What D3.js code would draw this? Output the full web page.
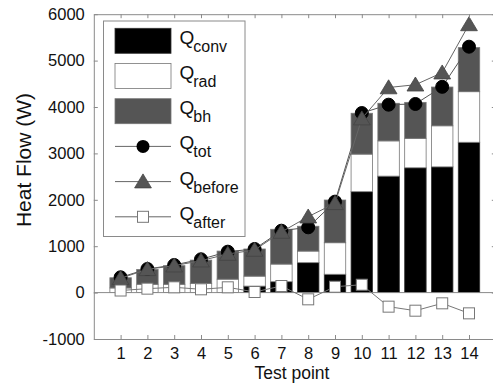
<!DOCTYPE html>
<html>
<head>
<meta charset="utf-8">
<script src="https://cdn.jsdelivr.net/npm/d3@7"></script>
<style>
  html, body { margin: 0; padding: 0; background: #fff; }
  svg { display: block; font-family: "Liberation Sans", Arial, sans-serif; }
</style>
</head>
<body>
<svg id="chart" width="493" height="389"></svg>
<script>
// Heat flow components per test point (W)
const testPoints = [1, 2, 3, 4, 5, 6, 7, 8, 9, 10, 11, 12, 13, 14];
const qConv   = [0, 0, 0, 0, 0, 140, 235, 645, 395, 2175, 2510, 2690, 2710, 3240];
const qRad    = [100, 180, 180, 200, 290, 215, 380, 250, 680, 810, 760, 635, 885, 1090];
const qBh     = [220, 320, 400, 500, 605, 585, 750, 535, 920, 880, 810, 775, 835, 950];
const qTot    = [330, 509, 595, 718, 882, 940, 1334, 1407, 1960, 3870, 4050, 4065, 4435, 5300];
const qBefore = [308, 502, 580, 688, 832, 918, 1306, 1636, 1925, 3750, 4420, 4480, 4740, 5780];
const qAfter  = [45, 85, 114, 71, 114, 13, 142, -145, 127, 170, -303, -390, -231, -447];
const yTicks  = [-1000, 0, 1000, 2000, 3000, 4000, 5000, 6000];

const svg = d3.select("#chart");
const x = d3.scaleLinear().domain([0, 15]).range([93.8, 495.8]);
const y = d3.scaleLinear().domain([-1000, 6000]).range([339, 14.2]);
const barW = x(0.8) - x(0);

const axisColor = "#8a8a8a";
const gray = "#555555";
const plain = d => String(d);

// stacked bars: convection at the bottom, radiation, then body heat
const rows = testPoints.map((t, i) => ({ t, conv: qConv[i], rad: qRad[i], bh: qBh[i] }));
const stack = d3.stack().keys(["conv", "rad", "bh"])(rows);
const fills = { conv: "#000000", rad: "#ffffff", bh: gray };
const strokes = { conv: "#333", rad: "#777", bh: "#777" };

const plot = svg.append("g");

stack.forEach(layer => {
  plot.append("g").selectAll("rect")
    .data(layer)
    .join("rect")
    .attr("x", d => x(d.data.t) - barW / 2)
    .attr("width", barW)
    .attr("y", d => y(d[1]))
    .attr("height", d => Math.max(0, y(d[0]) - y(d[1])))
    .attr("fill", fills[layer.key])
    .attr("stroke", strokes[layer.key])
    .attr("stroke-width", 0.8);
});

// zero baseline
plot.append("line")
  .attr("x1", x(0)).attr("x2", x(15))
  .attr("y1", y(0)).attr("y2", y(0))
  .attr("stroke", axisColor).attr("stroke-width", 1);

// axes box with inward ticks
const axes = svg.append("g");
const axLeft = axes.append("g").attr("transform", `translate(${x(0)},0)`)
  .call(d3.axisLeft(y).tickValues(yTicks).tickFormat(plain).tickSizeInner(-4).tickSizeOuter(0).tickPadding(9));
const axRight = axes.append("g").attr("transform", `translate(${x(15)},0)`)
  .call(d3.axisRight(y).tickValues(yTicks).tickSizeInner(-4).tickSizeOuter(0).tickFormat(""));
const axBottom = axes.append("g").attr("transform", `translate(0,${y(-1000)})`)
  .call(d3.axisBottom(x).tickValues(testPoints).tickFormat(plain).tickSizeInner(-4).tickSizeOuter(0).tickPadding(8));
const axTop = axes.append("g").attr("transform", `translate(0,${y(6000)})`)
  .call(d3.axisTop(x).tickValues(testPoints).tickSizeInner(-4).tickSizeOuter(0).tickFormat(""));
[axLeft, axRight, axBottom, axTop].forEach(g => {
  g.attr("font-size", 16.5).attr("font-family", "Liberation Sans, Arial, sans-serif");
  g.selectAll(".domain").attr("stroke", axisColor);
  g.selectAll(".tick line").attr("stroke", axisColor);
  g.selectAll(".tick text").attr("fill", "#111");
});

// lines with markers
const lineGen = vals => d3.line().x((d, i) => x(testPoints[i])).y(d => y(d))(vals);
const triPath = (cx, cy, s) => `M${cx},${cy - s * 0.55}L${cx + s * 0.6},${cy + s * 0.45}L${cx - s * 0.6},${cy + s * 0.45}Z`;

plot.append("path").attr("d", lineGen(qTot)).attr("fill", "none").attr("stroke", "#555").attr("stroke-width", 1);
plot.append("g").selectAll("circle").data(qTot).join("circle")
  .attr("cx", (d, i) => x(testPoints[i])).attr("cy", d => y(d)).attr("r", 6.5)
  .attr("fill", "#000").attr("stroke", "#000");

plot.append("path").attr("d", lineGen(qBefore)).attr("fill", "none").attr("stroke", "#666").attr("stroke-width", 1);
plot.append("g").selectAll("path").data(qBefore).join("path")
  .attr("d", (d, i) => triPath(x(testPoints[i]), y(d), 14))
  .attr("fill", gray).attr("stroke", "#444").attr("stroke-width", 0.8);

plot.append("path").attr("d", lineGen(qAfter)).attr("fill", "none").attr("stroke", "#777").attr("stroke-width", 1);
plot.append("g").selectAll("rect").data(qAfter).join("rect")
  .attr("x", (d, i) => x(testPoints[i]) - 5.5).attr("y", d => y(d) - 5.5)
  .attr("width", 11).attr("height", 11)
  .attr("fill", "#fff").attr("stroke", "#777").attr("stroke-width", 1);

// legend
const legendItems = [
  { sub: "conv", type: "rect", fill: "#000", stroke: "#333" },
  { sub: "rad", type: "rect", fill: "#fff", stroke: "#777" },
  { sub: "bh", type: "rect", fill: gray, stroke: "#777" },
  { sub: "tot", type: "circle" },
  { sub: "before", type: "tri" },
  { sub: "after", type: "square" }
];
const lg = svg.append("g");
lg.append("rect").attr("x", 103.5).attr("y", 21).attr("width", 141.5).attr("height", 215.5)
  .attr("fill", "#fff").attr("stroke", axisColor).attr("stroke-width", 1);
legendItems.forEach((it, i) => {
  const cy = 40.8 + 35.2 * i;
  const g = lg.append("g");
  if (it.type === "rect") {
    g.append("rect").attr("x", 115).attr("y", cy - 12.5).attr("width", 56).attr("height", 25)
      .attr("fill", it.fill).attr("stroke", it.stroke).attr("stroke-width", 0.8);
  } else {
    g.append("line").attr("x1", 115).attr("x2", 171).attr("y1", cy).attr("y2", cy)
      .attr("stroke", "#666").attr("stroke-width", 1);
    if (it.type === "circle") {
      g.append("circle").attr("cx", 143).attr("cy", cy).attr("r", 6.5).attr("fill", "#000");
    } else if (it.type === "tri") {
      g.append("path").attr("d", triPath(143, cy, 14)).attr("fill", gray).attr("stroke", "#444").attr("stroke-width", 0.8);
    } else {
      g.append("rect").attr("x", 137.5).attr("y", cy - 5.5).attr("width", 11).attr("height", 11)
        .attr("fill", "#fff").attr("stroke", "#777");
    }
  }
  const t = g.append("text").attr("x", 179.5).attr("y", cy + 3).attr("fill", "#111").attr("font-size", 19);
  t.append("tspan").text("Q");
  t.append("tspan").attr("font-size", 16).attr("dy", 8).attr("dx", -1).text(it.sub);
});

// axis titles
svg.append("text").attr("x", 292).attr("y", 379).attr("text-anchor", "middle")
  .attr("font-size", 17.5).attr("fill", "#111").text("Test point");
svg.append("text").attr("transform", "translate(31,160) rotate(-90)").attr("text-anchor", "middle")
  .attr("font-size", 21).attr("fill", "#111").text("Heat Flow (W)");
</script>
</body>
</html>
